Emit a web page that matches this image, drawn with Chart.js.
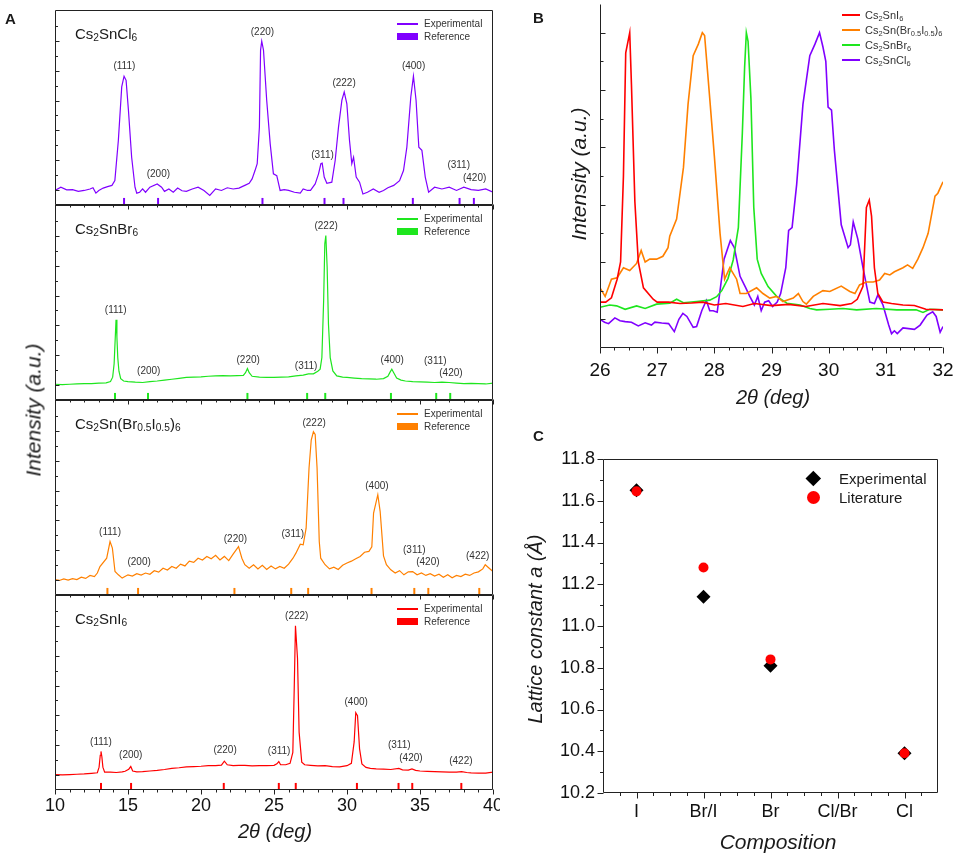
<!DOCTYPE html>
<html><head><meta charset="utf-8">
<script src="https://cdn.jsdelivr.net/npm/chart.js@4.4.1/dist/chart.umd.min.js"></script>
<style>
html,body{margin:0;padding:0;background:#fff;}
#wrap{position:relative;width:957px;height:856px;overflow:hidden;font-family:"Liberation Sans",Arial,Helvetica,sans-serif;color:#1a1a1a;}
canvas{position:absolute;}
.t{position:absolute;white-space:nowrap;line-height:1;}
.c{transform:translate(-50%,-50%);}
.l{transform:translateY(-50%);}
.r{transform:translate(-50%,-50%) rotate(-90deg);}
.i{font-style:italic;}
.b{font-weight:bold;}
sub{font-size:0.68em;vertical-align:-0.28em;line-height:0;}
.sw{position:absolute;}
</style></head><body><div id="wrap"></div>
<script>
// ================= DATA =================
// Panel A : XRD patterns, 2theta (deg) vs intensity (a.u., 1 unit = one y tick)
const clData = [[10.0,-0.03],[10.4,0.08],[10.8,-0.01],[11.2,0.0],[11.6,-0.06],[12.0,-0.03],[12.4,0.02],[12.6,0.06],[12.8,-0.12],[13.0,-0.03],[13.3,0.05],[13.6,0.10],[13.9,0.14],[14.1,0.30],[14.34,1.66],[14.57,3.46],[14.73,3.82],[14.87,3.68],[15.03,2.67],[15.25,1.09],[15.48,0.08],[15.6,-0.12],[15.8,-0.09],[16.0,0.02],[16.2,-0.09],[16.5,0.08],[17.0,0.19],[17.3,0.08],[17.5,-0.06],[17.8,0.02],[18.1,-0.09],[18.4,0.05],[18.7,-0.04],[19.0,-0.06],[19.4,0.02],[19.8,0.08],[20.2,-0.03],[20.6,-0.20],[21.0,0.02],[21.4,-0.03],[21.8,0.06],[22.2,0.02],[22.6,0.05],[23.0,0.14],[23.3,0.21],[23.5,0.36],[23.7,0.64],[23.85,0.87],[24.0,2.11],[24.08,4.70],[24.16,5.00],[24.28,4.70],[24.5,3.01],[24.74,1.54],[24.96,0.53],[25.19,0.47],[25.42,-0.03],[25.7,0.0],[26.0,-0.03],[26.4,-0.09],[26.8,-0.12],[27.0,0.02],[27.3,-0.03],[27.5,-0.03],[27.82,0.19],[28.05,0.53],[28.21,0.87],[28.3,0.89],[28.44,0.42],[28.62,0.21],[28.96,0.25],[29.19,0.98],[29.42,2.11],[29.65,3.01],[29.81,3.29],[29.99,2.89],[30.17,1.66],[30.33,0.87],[30.45,1.09],[30.63,0.42],[30.86,0.25],[31.09,-0.15],[31.4,-0.09],[31.8,0.02],[32.2,-0.09],[32.5,-0.03],[32.8,0.06],[33.2,0.14],[33.6,0.30],[33.87,0.64],[34.1,1.43],[34.37,3.12],[34.55,3.82],[34.73,3.01],[34.92,1.43],[35.13,1.32],[35.36,0.42],[35.59,-0.09],[36.0,0.08],[36.5,0.02],[37.0,0.08],[37.5,-0.03],[38.0,0.08],[38.5,0.0],[39.0,-0.03],[39.5,0.02],[40.0,-0.09]];
const brData = [[10,0.01],[10.5,0.0],[11,0.01],[11.5,0.02],[12,0.03],[12.5,0.03],[13,0.05],[13.5,0.06],[13.8,0.10],[13.95,0.25],[14.05,0.7],[14.12,1.5],[14.18,2.18],[14.24,1.6],[14.3,0.9],[14.38,0.45],[14.5,0.2],[14.7,0.12],[15,0.10],[15.5,0.08],[16,0.07],[16.5,0.10],[17,0.12],[17.5,0.15],[18,0.18],[18.5,0.21],[19,0.24],[19.5,0.25],[20,0.26],[20.5,0.28],[21,0.29],[21.5,0.30],[22,0.29],[22.5,0.30],[22.9,0.31],[23.05,0.4],[23.18,0.54],[23.3,0.40],[23.5,0.28],[24,0.25],[24.5,0.24],[25,0.24],[25.5,0.25],[26,0.26],[26.5,0.29],[27,0.32],[27.36,0.36],[27.7,0.36],[28.0,0.45],[28.16,0.52],[28.28,0.91],[28.4,2.83],[28.48,4.74],[28.55,5.02],[28.64,3.95],[28.73,2.04],[28.85,0.91],[29.03,0.46],[29.3,0.29],[29.7,0.25],[30,0.24],[30.5,0.22],[31,0.20],[31.5,0.19],[32,0.18],[32.5,0.20],[32.8,0.28],[32.95,0.42],[33.07,0.52],[33.2,0.40],[33.4,0.22],[33.7,0.15],[34,0.12],[34.5,0.10],[35,0.09],[35.5,0.08],[36,0.07],[36.5,0.08],[37,0.07],[37.5,0.05],[38,0.03],[38.5,0.04],[39,0.03],[39.5,0.02],[40,0.05]];
const brIData = [[10.0,0.0],[10.3,-0.03],[10.6,0.02],[10.9,-0.02],[11.2,0.03],[11.5,0.0],[11.8,0.08],[12.1,0.04],[12.4,0.14],[12.7,0.10],[12.9,0.22],[13.08,0.44],[13.54,0.72],[13.77,1.28],[13.93,1.06],[14.11,0.27],[14.34,0.16],[14.6,0.05],[15.0,0.16],[15.3,0.12],[15.6,0.20],[15.9,0.15],[16.2,0.22],[16.5,0.18],[16.8,0.30],[17.1,0.25],[17.4,0.38],[17.7,0.32],[18.0,0.44],[18.3,0.38],[18.6,0.52],[18.9,0.46],[19.2,0.62],[19.5,0.58],[19.8,0.72],[20.1,0.66],[20.4,0.78],[20.7,0.70],[21.0,0.82],[21.3,0.66],[21.6,0.78],[21.9,0.64],[22.2,0.86],[22.57,1.11],[22.8,0.72],[23.0,0.50],[23.3,0.38],[23.6,0.50],[23.9,0.36],[24.2,0.48],[24.5,0.34],[24.8,0.46],[25.1,0.36],[25.4,0.44],[25.7,0.38],[26.0,0.52],[26.3,0.72],[26.5,0.89],[26.8,1.19],[27.0,1.17],[27.2,1.73],[27.4,3.76],[27.55,4.70],[27.7,4.98],[27.82,4.89],[27.95,3.76],[28.1,1.28],[28.2,0.72],[28.5,0.50],[28.8,0.36],[29.1,0.42],[29.4,0.34],[29.7,0.48],[30.0,0.56],[30.3,0.62],[30.6,0.70],[30.9,0.78],[31.2,0.92],[31.5,0.95],[31.7,1.10],[31.82,2.24],[32.11,2.86],[32.27,2.30],[32.5,0.80],[32.7,0.50],[33.0,0.33],[33.3,0.22],[33.6,0.30],[33.9,0.16],[34.2,0.26],[34.5,0.27],[34.8,0.16],[35.1,0.22],[35.4,0.14],[35.7,0.20],[36.0,0.12],[36.3,0.18],[36.6,0.08],[36.9,0.16],[37.2,0.06],[37.5,0.14],[37.8,0.10],[38.1,0.18],[38.4,0.14],[38.7,0.22],[39.0,0.26],[39.3,0.36],[39.47,0.50],[39.7,0.40],[40.0,0.27]];
const iData = [[10,0],[10.5,-0.01],[11,0.0],[11.5,0.01],[12,0.02],[12.5,0.04],[12.9,0.06],[13.02,0.25],[13.1,0.65],[13.15,0.78],[13.21,0.6],[13.28,0.25],[13.4,0.08],[13.8,0.08],[14.2,0.07],[14.6,0.09],[14.8,0.11],[15.05,0.18],[15.19,0.27],[15.32,0.12],[15.6,0.09],[16,0.10],[16.5,0.12],[17,0.14],[17.5,0.17],[18,0.21],[18.5,0.23],[19,0.26],[19.5,0.27],[20,0.28],[20.5,0.30],[21,0.30],[21.4,0.32],[21.6,0.45],[21.8,0.33],[22.2,0.30],[22.6,0.31],[23,0.31],[23.5,0.29],[24,0.30],[24.5,0.30],[25,0.31],[25.2,0.36],[25.33,0.44],[25.45,0.33],[25.8,0.33],[26.1,0.38],[26.29,0.75],[26.38,2.78],[26.47,5.01],[26.61,3.91],[26.72,1.43],[26.9,0.42],[27.1,0.33],[27.5,0.31],[28,0.29],[28.5,0.30],[29,0.27],[29.5,0.26],[30,0.30],[30.3,0.38],[30.49,1.10],[30.6,2.08],[30.72,1.98],[30.86,0.87],[31.02,0.36],[31.3,0.24],[31.6,0.21],[32,0.19],[32.5,0.18],[33,0.17],[33.55,0.21],[33.8,0.16],[34.2,0.15],[34.45,0.19],[34.7,0.14],[35,0.12],[35.5,0.11],[36,0.10],[36.5,0.09],[37,0.08],[37.5,0.08],[37.85,0.10],[38.2,0.07],[38.5,0.06],[39,0.05],[39.5,0.05],[40,0.08]];

// Reference reflection positions (2theta)
const refCl  = [14.73, 17.06, 24.21, 28.46, 29.76, 34.51, 37.71, 38.69];
const refBr  = [14.11, 16.37, 23.18, 27.27, 28.51, 33.01, 36.11, 37.07];
const refBrI = [13.59, 15.69, 22.29, 26.18, 27.34, 31.68, 34.61, 35.57, 39.06];
const refI   = [13.15, 15.21, 21.56, 25.33, 26.49, 30.68, 33.53, 34.47, 37.83];

// Peak (hkl) annotations: text and [2theta, intensity] anchor
const hklCl  = ['(111)','(200)','(220)','(311)','(222)','(400)','(311)','(420)'];
const hklClAt  = [[14.75,4.16],[17.08,0.50],[24.21,5.29],[28.32,1.17],[29.8,3.57],[34.56,4.16],[37.65,0.83],[38.74,0.38]];
const hklBr  = ['(111)','(200)','(220)','(311)','(222)','(400)','(311)','(420)'];
const hklBrAt  = [[14.16,2.49],[16.42,0.44],[23.23,0.82],[27.2,0.63],[28.57,5.33],[33.1,0.82],[36.05,0.80],[37.12,0.37]];
const hklBrI = ['(111)','(200)','(220)','(311)','(222)','(400)','(311)','(420)','(422)'];
const hklBrIAt = [[13.77,1.59],[15.76,0.59],[22.36,1.37],[26.29,1.53],[27.75,5.25],[32.05,3.14],[34.61,1.00],[35.54,0.57],[38.95,0.78]];
const hklI   = ['(111)','(200)','(220)','(311)','(222)','(400)','(311)','(420)','(422)'];
const hklIAt   = [[13.15,1.09],[15.19,0.64],[21.65,0.81],[25.35,0.78],[26.56,5.35],[30.63,2.42],[33.58,0.98],[34.38,0.56],[37.8,0.44]];

const xTicksA = [10, 15, 20, 25, 30, 35, 40];

// Panel B : normalised zoom 26-32 deg
const bI = [[26.0,0.06],[26.1,0.06],[26.2,0.075],[26.3,0.14],[26.36,0.2],[26.41,0.5],[26.45,0.93],[26.52,1.0],[26.55,0.82],[26.61,0.41],[26.67,0.2],[26.76,0.11],[26.93,0.07],[27.0,0.06],[27.2,0.06],[27.4,0.055],[27.6,0.057],[27.8,0.06],[28.0,0.05],[28.2,0.055],[28.5,0.045],[28.7,0.055],[29.0,0.048],[29.3,0.052],[29.6,0.045],[29.9,0.055],[30.2,0.048],[30.4,0.055],[30.5,0.07],[30.6,0.115],[30.66,0.39],[30.71,0.416],[30.75,0.36],[30.8,0.18],[30.86,0.09],[30.95,0.06],[31.1,0.055],[31.3,0.05],[31.5,0.048],[31.7,0.035],[32.0,0.033]];
const bBrI = [[26.0,0.11],[26.09,0.08],[26.2,0.14],[26.3,0.145],[26.41,0.18],[26.52,0.17],[26.64,0.195],[26.72,0.24],[26.79,0.2],[26.87,0.21],[26.99,0.21],[27.1,0.22],[27.19,0.25],[27.22,0.29],[27.34,0.35],[27.46,0.53],[27.54,0.75],[27.63,0.92],[27.72,0.96],[27.79,1.0],[27.83,0.99],[27.92,0.77],[28.0,0.57],[28.1,0.3],[28.18,0.14],[28.27,0.18],[28.39,0.14],[28.45,0.09],[28.56,0.09],[28.74,0.11],[28.85,0.09],[28.97,0.074],[29.09,0.08],[29.2,0.062],[29.38,0.074],[29.47,0.09],[29.55,0.062],[29.61,0.053],[29.73,0.08],[29.9,0.10],[30.02,0.097],[30.22,0.116],[30.37,0.097],[30.46,0.09],[30.54,0.12],[30.66,0.13],[30.78,0.13],[30.89,0.137],[30.98,0.16],[31.07,0.155],[31.15,0.166],[31.3,0.18],[31.38,0.19],[31.47,0.178],[31.56,0.21],[31.65,0.25],[31.74,0.30],[31.86,0.43],[31.91,0.44],[32.0,0.48]];
const bBr = [[26.0,0.042],[26.17,0.05],[26.29,0.047],[26.44,0.035],[26.64,0.047],[26.79,0.038],[26.99,0.053],[27.22,0.056],[27.34,0.07],[27.46,0.058],[27.69,0.062],[27.92,0.067],[28.04,0.079],[28.13,0.10],[28.24,0.143],[28.33,0.207],[28.42,0.32],[28.49,0.65],[28.53,0.88],[28.56,1.0],[28.59,0.97],[28.64,0.77],[28.69,0.39],[28.75,0.21],[28.82,0.16],[28.94,0.114],[29.09,0.08],[29.27,0.056],[29.5,0.05],[29.67,0.038],[29.79,0.033],[30.02,0.035],[30.25,0.038],[30.49,0.033],[30.83,0.038],[31.19,0.033],[31.53,0.033],[31.65,0.024],[31.77,0.035],[32.0,0.033]];
const bCl = [[26.0,0.0],[26.08,-0.01],[26.15,-0.015],[26.26,0.005],[26.35,-0.005],[26.44,-0.008],[26.55,-0.01],[26.67,-0.023],[26.79,-0.012],[26.9,-0.02],[26.96,-0.01],[27.08,-0.013],[27.2,-0.015],[27.3,-0.043],[27.38,0.0],[27.45,0.021],[27.52,0.01],[27.63,-0.028],[27.69,-0.025],[27.78,0.03],[27.86,0.066],[27.92,0.03],[27.98,0.03],[28.05,0.025],[28.1,0.1],[28.17,0.21],[28.28,0.275],[28.35,0.25],[28.45,0.15],[28.55,0.11],[28.62,0.08],[28.7,0.05],[28.76,0.08],[28.82,0.03],[28.88,0.06],[28.95,0.065],[29.02,0.045],[29.1,0.06],[29.16,0.09],[29.25,0.18],[29.3,0.31],[29.36,0.32],[29.44,0.47],[29.55,0.75],[29.67,0.92],[29.76,0.96],[29.84,1.0],[29.9,0.95],[29.95,0.9],[29.99,0.74],[30.05,0.73],[30.1,0.59],[30.22,0.33],[30.34,0.25],[30.38,0.26],[30.43,0.34],[30.51,0.28],[30.6,0.18],[30.72,0.06],[30.8,0.055],[30.86,0.085],[30.95,0.05],[31.05,-0.02],[31.1,-0.05],[31.15,-0.04],[31.2,-0.05],[31.3,-0.03],[31.5,-0.035],[31.6,-0.02],[31.72,0.015],[31.82,0.026],[31.88,0.01],[31.95,-0.045],[32.0,-0.025]];
const xTicksB = [26, 27, 28, 29, 30, 31, 32];

// Panel C : lattice constant
const compositions = ['I', 'Br/I', 'Br', 'Cl/Br', 'Cl'];
const latticeExp = [11.65, 11.14, 10.81, null, 10.39];
const latticeLit = [11.645, 11.28, 10.84, null, 10.39];

// ================= STYLE / LAYOUT =================
const FONT = "'Liberation Sans', Arial, Helvetica, sans-serif";
Chart.defaults.font.family = FONT;
Chart.defaults.color = '#111';
const wrap = document.getElementById('wrap');
const AX = '#222';

function addCanvas(left, top, w, h){
  const c = document.createElement('canvas');
  c.width = w; c.height = h;
  c.style.left = left+'px'; c.style.top = top+'px';
  c.style.width = w+'px'; c.style.height = h+'px';
  wrap.appendChild(c); return c;
}
function txt(html, x, y, size, cls, extra){
  const d = document.createElement('div');
  d.className = 't ' + cls; d.innerHTML = html;
  d.style.left = x+'px'; d.style.top = y+'px'; d.style.fontSize = size+'px';
  if (extra) Object.assign(d.style, extra);
  wrap.appendChild(d); return d;
}
function sw(x, y, w, h, color, extra){
  const d = document.createElement('div'); d.className='sw';
  Object.assign(d.style, {left:x+'px', top:y+'px', width:w+'px', height:h+'px', background:color}, extra||{});
  wrap.appendChild(d); return d;
}
function range(a, b, step, skipInt){
  const out=[]; for(let v=a; v<=b+1e-9; v+=step){ const r=Math.round(v*1000)/1000; if(skipInt && Math.abs(r-Math.round(r))<1e-6) continue; out.push(r);} return out;
}
function framePlugin(cfg){
  return { id:'frame'+Math.random(), afterDraw(chart){
    const {ctx, chartArea:a, scales:{x,y}} = chart;
    const L=Math.round(a.left)+0.5, R=Math.round(a.right)-0.5, T=Math.round(a.top)+0.5, B=Math.round(a.bottom)-0.5;
    ctx.save(); ctx.strokeStyle=AX; ctx.lineWidth=1; ctx.beginPath();
    if (cfg.box) ctx.rect(L,T,R-L,B-T); else { ctx.moveTo(L,T); ctx.lineTo(L,B); ctx.lineTo(R,B); }
    const dx=cfg.x, dy=cfg.y;
    const xt=(vals,len)=>vals.forEach(v=>{const p=Math.round(x.getPixelForValue(v))+0.5; ctx.moveTo(p,B); ctx.lineTo(p,B+(dx.dir==='out'?len:-len));});
    xt(dx.major,dx.ml); xt(dx.minor,dx.nl);
    const yt=(vals,len)=>vals.forEach(v=>{const p=Math.round(y.getPixelForValue(v))+0.5; ctx.moveTo(L,p); ctx.lineTo(L+(dy.dir==='out'?-len:len),p);});
    yt(dy.major,dy.ml); yt(dy.minor,dy.nl);
    ctx.stroke(); ctx.restore();
  }};
}
function peakPlugin(labels, at){
  return { id:'peaks'+Math.random(), afterDatasetsDraw(chart){
    const {ctx, scales:{x,y}} = chart;
    ctx.save(); ctx.font = '10px '+FONT; ctx.fillStyle='#333'; ctx.textAlign='center'; ctx.textBaseline='middle';
    labels.forEach((t,i)=>ctx.fillText(t, x.getPixelForValue(at[i][0]), y.getPixelForValue(at[i][1])));
    ctx.restore();
  }};
}

// ---------- Panel A ----------
const A_T = [10, 205, 400, 595], A_H = 195, A_YMIN = -0.52, A_YMAX = 6.05;
const REF_MARK_Y = A_YMIN + 0.12;
const panelsA = [
  {data:clData,  ref:refCl,  color:'#8000ff', hkl:hklCl,  at:hklClAt,  name:'Cs<sub>2</sub>SnCl<sub>6</sub>'},
  {data:brData,  ref:refBr,  color:'#1ee61e', hkl:hklBr,  at:hklBrAt,  name:'Cs<sub>2</sub>SnBr<sub>6</sub>'},
  {data:brIData, ref:refBrI, color:'#ff8000', hkl:hklBrI, at:hklBrIAt, name:'Cs<sub>2</sub>Sn(Br<sub>0.5</sub>I<sub>0.5</sub>)<sub>6</sub>'},
  {data:iData,   ref:refI,   color:'#ff0000', hkl:hklI,   at:hklIAt,   name:'Cs<sub>2</sub>SnI<sub>6</sub>'}
];
panelsA.forEach((p, i) => {
  const last = i === 3;
  const top = A_T[i] - 10;
  const h = last ? 856 - top : A_H + 20;
  const cv = addCanvas(0, top, 500, h);
  new Chart(cv, {
    type:'line',
    data:{datasets:[
      {label:'Experimental', data:p.data.map(d=>({x:d[0],y:d[1]})), borderColor:p.color, borderWidth:1.2, pointRadius:0, tension:0, fill:false},
      {label:'Reference', data:p.ref.map(v=>({x:v,y:REF_MARK_Y})), showLine:false, pointStyle:'line', pointRotation:90, pointRadius:3.5, pointBorderColor:p.color, pointBorderWidth:2, borderColor:p.color}
    ]},
    options:{
      responsive:false, animation:false, events:[],
      layout:{padding:{left:0, right:7, top:10, bottom: last ? 26 : 10}},
      plugins:{legend:{display:false}, tooltip:{enabled:false}},
      scales:{
        x:{type:'linear', min:10, max:40,
           afterBuildTicks:s=>{s.ticks = xTicksA.map(v=>({value:v}));},
           ticks:{display:last, font:{size:18}, color:'#111', padding:5, maxRotation:0, autoSkip:false},
           grid:{display:false, drawTicks:false}, border:{display:false},
           afterFit:s=>{s.height = last ? 40 : 0; s.paddingLeft=0; s.paddingRight=0;}},
        y:{type:'linear', min:A_YMIN, max:A_YMAX, ticks:{display:false},
           grid:{display:false, drawTicks:false}, border:{display:false},
           afterFit:s=>{s.width=55; s.paddingTop=0; s.paddingBottom=0;}}
      }
    },
    plugins:[framePlugin({box:true,
      x:{major:range(10,40,5), minor:range(10,40,1).filter(v=>v%5!==0), dir:'out', ml:5, nl:3},
      y:{major:range(0,5,1), minor:range(0.5,5.5,1), dir:'in', ml:4, nl:2.5}}),
      peakPlugin(p.hkl, p.at)]
  });
  const T = A_T[i];
  txt(p.name, 75, T+23, 15, 'l');
  sw(397, T+13, 21, 1.5, p.color);
  sw(397, T+23, 21, 6.5, p.color);
  txt('Experimental', 424, T+14, 10, 'l', {color:'#333'});
  txt('Reference', 424, T+26.5, 10, 'l', {color:'#333'});
});
txt('Intensity (a.u.)', 33, 410, 21, 'r i');
txt('2<i>θ</i> (deg)', 275, 831, 20, 'c i');
txt('A', 5, 18, 15, 'l b');

// ---------- Panel B ----------
const cvB = addCanvas(540, 0, 417, 420);
const seriesB = [
  {label:'Cs2SnI6', data:bI, color:'#ff0000', html:'Cs<sub>2</sub>SnI<sub>6</sub>'},
  {label:'Cs2Sn(Br0.5I0.5)6', data:bBrI, color:'#ff8000', html:'Cs<sub>2</sub>Sn(Br<sub>0.5</sub>I<sub>0.5</sub>)<sub>6</sub>'},
  {label:'Cs2SnBr6', data:bBr, color:'#1ee61e', html:'Cs<sub>2</sub>SnBr<sub>6</sub>'},
  {label:'Cs2SnCl6', data:bCl, color:'#8000ff', html:'Cs<sub>2</sub>SnCl<sub>6</sub>'}
];
new Chart(cvB, {
  type:'line',
  data:{datasets: seriesB.map(s=>({label:s.label, data:s.data.map(d=>({x:d[0],y:d[1]})), borderColor:s.color, borderWidth:1.6, pointRadius:0, tension:0, fill:false}))},
  options:{
    responsive:false, animation:false, events:[],
    layout:{padding:{left:0, right:14, top:4, bottom:32}},
    plugins:{legend:{display:false}, tooltip:{enabled:false}},
    scales:{
      x:{type:'linear', min:26, max:32,
         afterBuildTicks:s=>{s.ticks = xTicksB.map(v=>({value:v}));},
         ticks:{font:{size:19}, color:'#111', padding:11, maxRotation:0, autoSkip:false},
         grid:{display:false, drawTicks:false}, border:{display:false},
         afterFit:s=>{s.height=40; s.paddingLeft=0; s.paddingRight=0;}},
      y:{type:'linear', min:-0.1, max:1.1, ticks:{display:false},
         grid:{display:false, drawTicks:false}, border:{display:false},
         afterFit:s=>{s.width=60; s.paddingTop=0; s.paddingBottom=0;}}
    }
  },
  plugins:[framePlugin({box:false,
    x:{major:range(26,32,1), minor:range(26,32,0.25,true), dir:'out', ml:6, nl:3},
    y:{major:range(0,1,0.2), minor:range(0.1,0.9,0.2), dir:'in', ml:5, nl:3}})]
});
seriesB.forEach((s,i)=>{
  sw(842, 14+15*i, 18, 1.6, s.color);
  txt(s.html, 865, 15+15*i, 11, 'l', {color:'#333'});
});
txt('Intensity (a.u.)', 578, 174, 21, 'r i');
txt('2<i>θ</i> (deg)', 773, 397, 20, 'c i');
txt('B', 533, 17, 15, 'l b');

// ---------- Panel C ----------
const cvC = addCanvas(520, 420, 437, 436);
const toPts = arr => arr.map((v,i)=>v===null?null:({x:i, y:v})).filter(p=>p);
new Chart(cvC, {
  type:'scatter',
  data:{datasets:[
    {label:'Literature', data:toPts(latticeLit), pointStyle:'circle', pointRadius:5, backgroundColor:'#ff0000', borderColor:'#ff0000', borderWidth:0, order:0},
    {label:'Experimental', data:toPts(latticeExp), pointStyle:'rectRot', pointRadius:7, backgroundColor:'#000', borderColor:'#000', borderWidth:0, order:1}
  ]},
  options:{
    responsive:false, animation:false, events:[],
    layout:{padding:{left:0, right:19, top:39, bottom:28}},
    plugins:{legend:{display:false}, tooltip:{enabled:false}},
    scales:{
      x:{type:'linear', min:-0.5, max:4.5,
         afterBuildTicks:s=>{s.ticks = compositions.map((c,i)=>({value:i}));},
         ticks:{font:{size:18}, color:'#111', padding:8, maxRotation:0, autoSkip:false, callback:v=>compositions[v]},
         grid:{display:false, drawTicks:false}, border:{display:false},
         afterFit:s=>{s.height=35; s.paddingLeft=0; s.paddingRight=0;}},
      y:{type:'linear', min:10.2, max:11.8,
         afterBuildTicks:s=>{s.ticks = range(10.2,11.8,0.2).map(v=>({value:v}));},
         ticks:{font:{size:18}, color:'#111', padding:8, callback:v=>Number(v).toFixed(1)},
         grid:{display:false, drawTicks:false}, border:{display:false},
         afterFit:s=>{s.width=83; s.paddingTop=0; s.paddingBottom=0;}}
    }
  },
  plugins:[framePlugin({box:true,
    x:{major:range(0,4,1), minor:range(-0.25,4.25,0.25,true), dir:'out', ml:6, nl:3.5},
    y:{major:range(10.2,11.8,0.2), minor:range(10.3,11.7,0.2), dir:'out', ml:6, nl:3.5}})]
});
sw(807.7, 472.7, 10.6, 10.6, '#000', {transform:'rotate(45deg)'});
sw(806.5, 490.5, 13, 13, '#ff0000', {borderRadius:'50%'});
txt('Experimental', 839, 478, 15, 'l');
txt('Literature', 839, 497, 15, 'l');
txt('Lattice constant <i>a</i> (Å)', 535, 629, 20, 'r i');
txt('Composition', 778, 841, 21, 'c i');
txt('C', 533, 435, 15, 'l b');
</script></body></html>
